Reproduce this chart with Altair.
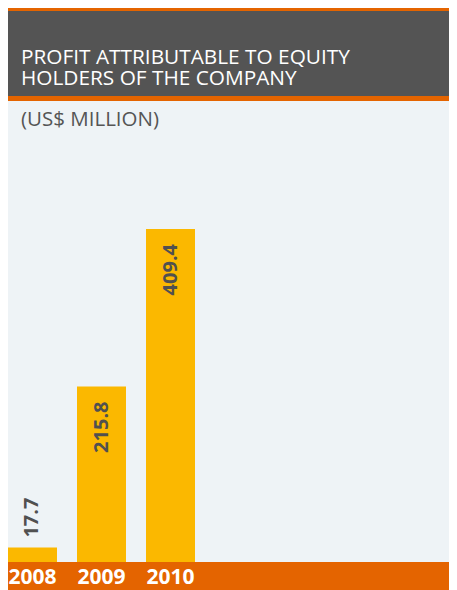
import altair as alt
import pandas as pd

years = ["2008", "2009", "2010"]
profits = [17.7, 215.8, 409.4]
labels = ["17.7", "215.8", "409.4"]

title_lines = ["PROFIT ATTRIBUTABLE TO EQUITY", "HOLDERS OF THE COMPANY"]
unit_text = "(US$ MILLION)"

df = pd.DataFrame({"year": years, "profit": profits, "label": labels})

W, H = 441, 461
FONT = "Open Sans"

x_enc = alt.X(
    "year:N",
    sort=years,
    scale=alt.Scale(range=[0, 187], paddingInner=0.29, paddingOuter=0),
    axis=alt.Axis(
        title=None, domain=False, ticks=False, tickSize=0, grid=False,
        labelAngle=0, labelFont=FONT, labelFontWeight="bold", labelFontSize=21,
        labelColor="white", labelBaseline="alphabetic", labelPadding=21,
    ),
)
y_enc = alt.Y("profit:Q", scale=alt.Scale(domain=[0, 566.7], nice=False), axis=None)

base = alt.Chart(df)

bars = base.mark_bar(color="#FBB800").encode(x=x_enc, y=y_enc)

inside = base.transform_filter("datum.profit > 100").mark_text(
    angle=270, align="right", baseline="middle", dx=-15,
    font=FONT, fontWeight="bold", fontSize=20, color="#505050",
).encode(x=x_enc, y=y_enc, text="label:N")

outside = base.transform_filter("datum.profit <= 100").mark_text(
    angle=270, align="left", baseline="middle", dx=10,
    font=FONT, fontWeight="bold", fontSize=20, color="#505050",
).encode(x=x_enc, y=y_enc, text="label:N")

one = alt.Data(values=[{"a": 1}])

band = alt.Chart(one).mark_rect(color="#545454").encode(
    x=alt.value(0), x2=alt.value(W), y=alt.value(-90), y2=alt.value(-5)
)

title = alt.Chart(one).mark_text(
    text=title_lines, align="left", baseline="alphabetic", lineHeight=21,
    font=FONT, fontSize=20.8, color="white",
).encode(x=alt.value(13), y=alt.value(-37))
unit = alt.Chart(one).mark_text(
    text=unit_text, align="left", baseline="alphabetic",
    font=FONT, fontSize=20.5, color="#555555",
).encode(x=alt.value(13), y=alt.value(25))

chart = alt.layer(band, title, unit, bars, inside, outside).properties(
    width=W, height=H,
    padding={"top": 93, "bottom": 28, "left": 0, "right": 0},
    autosize=alt.AutoSizeParams(type="none"),
    background="#E46400",
).configure_view(stroke=None, fill="#EEF3F6")

chart.save("out.html", embed_options={"renderer": "svg", "actions": False})
